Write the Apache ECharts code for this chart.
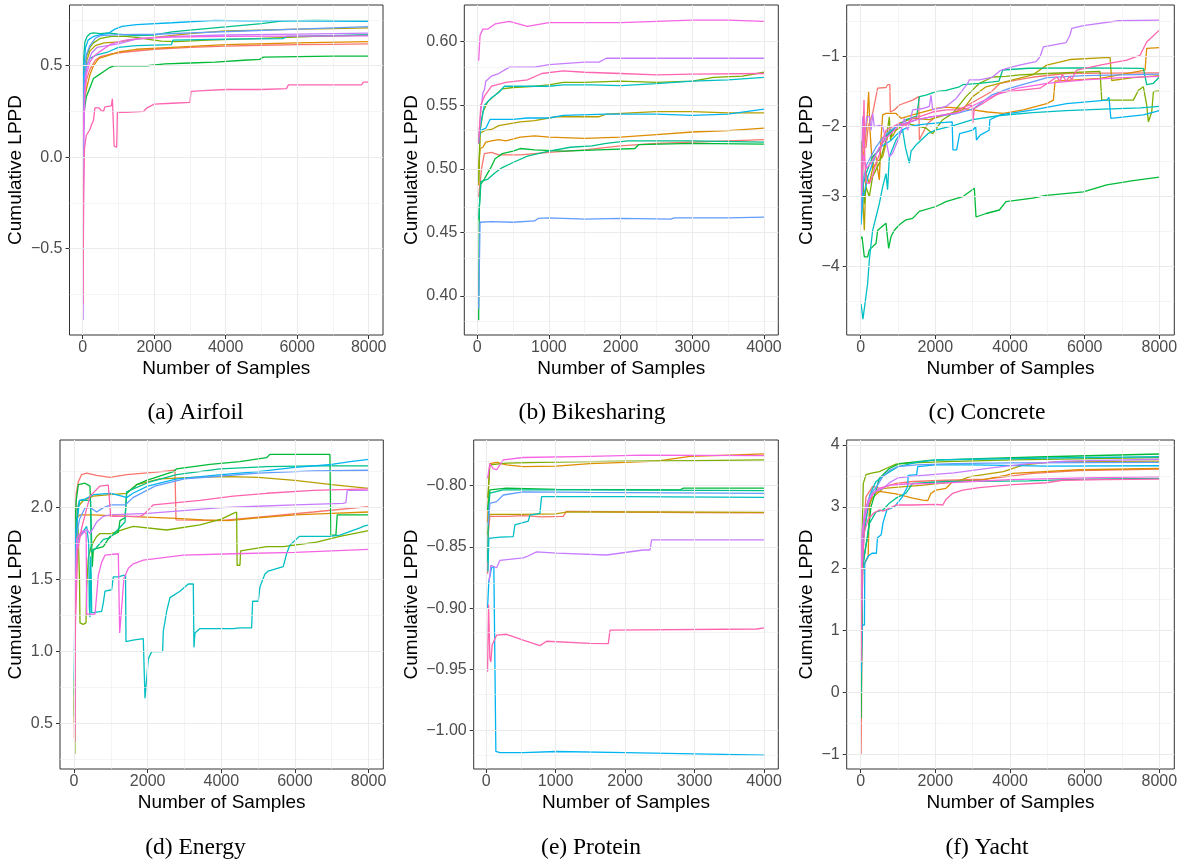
<!DOCTYPE html>
<html>
<head>
<meta charset="utf-8">
<title>Cumulative LPPD by dataset</title>
<script src="https://cdn.jsdelivr.net/npm/echarts@6/dist/echarts.min.js"></script>
<style>
  html, body { margin: 0; padding: 0; background: #ffffff; }
  #chart { width: 1183px; height: 864px; }
</style>
</head>
<body>
<div id="chart"></div>
<script>
// ---- Data: 12 runs per dataset, each a list of [number of samples, cumulative LPPD] ----

const airfoilRuns = [
  [[10,0.05],[40,0.30],[100,0.42],[200,0.48],[350,0.53],[500,0.55],[800,0.565],[1200,0.575],[2000,0.59],[3000,0.60],[4000,0.607],[5000,0.612],[6000,0.615],[7000,0.617],[8000,0.619]],
  [[10,0.15],[40,0.30],[100,0.37],[200,0.45],[300,0.50],[450,0.54],[700,0.555],[1000,0.575],[1500,0.59],[2500,0.60],[4000,0.615],[6000,0.625],[8000,0.632]],
  [[10,0.2],[40,0.40],[100,0.52],[200,0.58],[350,0.61],[600,0.625],[1000,0.63],[1500,0.645],[2000,0.655],[3000,0.675],[4000,0.69],[5000,0.695],[6000,0.70],[7000,0.703],[8000,0.707]],
  [[10,0.25],[40,0.45],[100,0.55],[200,0.60],[300,0.625],[500,0.65],[800,0.66],[1200,0.66],[1500,0.655],[1800,0.645],[2200,0.635],[2600,0.632],[3500,0.64],[5000,0.65],[6500,0.66],[8000,0.668]],
  [[10,0.1],[40,0.25],[100,0.33],[200,0.38],[300,0.43],[450,0.45],[600,0.47],[750,0.49],[900,0.50],[1200,0.50],[1800,0.50],[2300,0.51],[3000,0.515],[3700,0.52],[4500,0.53],[4950,0.535],[5050,0.547],[6000,0.55],[7000,0.552],[8000,0.553]],
  [[10,0.3],[30,0.55],[60,0.63],[120,0.66],[200,0.675],[300,0.68],[500,0.675],[700,0.68],[1000,0.672],[1500,0.665],[2000,0.668],[2500,0.685],[3000,0.695],[4000,0.712],[5000,0.73],[5600,0.745],[6500,0.748],[8000,0.745]],
  [[10,0.2],[50,0.42],[100,0.50],[200,0.54],[400,0.56],[700,0.575],[1000,0.60],[1500,0.61],[2480,0.615],[2520,0.64],[4000,0.645],[5600,0.648],[5700,0.66],[8000,0.668]],
  [[10,0.25],[30,0.50],[80,0.60],[150,0.64],[300,0.66],[500,0.67],[700,0.675],[900,0.70],[1100,0.715],[1500,0.725],[2500,0.735],[3700,0.748],[4500,0.745],[6000,0.745],[8000,0.743]],
  [[10,0.0],[40,0.40],[100,0.56],[200,0.61],[350,0.65],[500,0.665],[1000,0.67],[2000,0.672],[3000,0.68],[4500,0.69],[6000,0.70],[8000,0.714]],
  [[10,-0.89],[20,-0.3],[40,0.2],[80,0.45],[150,0.52],[250,0.57],[400,0.60],[700,0.61],[1000,0.62],[1500,0.645],[2500,0.66],[4000,0.668],[6000,0.673],[8000,0.678]],
  [[10,0.1],[50,0.35],[100,0.45],[200,0.52],[300,0.55],[500,0.58],[800,0.62],[1200,0.64],[1600,0.65],[2500,0.657],[4000,0.66],[8000,0.663]],
  [[10,-0.80],[25,-0.2],[50,0.05],[100,0.12],[200,0.15],[250,0.18],[300,0.20],[340,0.27],[450,0.27],[520,0.255],[580,0.25],[620,0.275],[800,0.28],[830,0.32],[860,0.33],[880,0.06],[950,0.055],[970,0.245],[1200,0.245],[1700,0.25],[1800,0.27],[2000,0.29],[2500,0.295],[3000,0.30],[3030,0.36],[3500,0.365],[4000,0.37],[5000,0.37],[5700,0.375],[5750,0.395],[6500,0.395],[7800,0.395],[7850,0.41],[8000,0.41]]
];

const bikesharingRuns = [
  [[20,0.478],[60,0.50],[100,0.512],[200,0.513],[300,0.511],[600,0.511],[1000,0.513],[1500,0.515],[2000,0.518],[2500,0.520],[3000,0.521],[3500,0.522],[4000,0.523]],
  [[20,0.50],[40,0.516],[80,0.517],[120,0.521],[200,0.522],[300,0.523],[400,0.522],[600,0.525],[800,0.526],[1000,0.525],[1500,0.524],[2000,0.525],[2500,0.527],[3000,0.529],[3500,0.530],[4000,0.532]],
  [[20,0.487],[40,0.528],[100,0.530],[200,0.531],[300,0.534],[400,0.535],[600,0.537],[800,0.538],[1100,0.541],[1700,0.541],[1800,0.543],[2500,0.545],[3000,0.545],[3500,0.544],[4000,0.544]],
  [[20,0.49],[40,0.53],[80,0.545],[150,0.553],[250,0.558],[350,0.563],[500,0.564],[800,0.565],[1000,0.566],[1200,0.568],[1500,0.568],[2000,0.569],[2500,0.568],[3000,0.569],[3300,0.572],[3700,0.573],[4000,0.576]],
  [[20,0.381],[30,0.47],[50,0.488],[100,0.492],[150,0.497],[200,0.502],[250,0.508],[350,0.512],[500,0.514],[600,0.516],[800,0.515],[1200,0.514],[1700,0.515],[2200,0.516],[2250,0.519],[3000,0.520],[4000,0.5195]],
  [[20,0.46],[50,0.49],[150,0.492],[250,0.497],[350,0.501],[500,0.505],[700,0.51],[1000,0.514],[1300,0.517],[1600,0.518],[1800,0.520],[2100,0.522],[3000,0.522],[4000,0.521]],
  [[20,0.52],[50,0.535],[100,0.55],[200,0.556],[300,0.560],[380,0.565],[700,0.565],[1000,0.565],[1200,0.566],[1600,0.566],[2000,0.5655],[2500,0.567],[3000,0.569],[3500,0.570],[4000,0.572]],
  [[20,0.52],[40,0.530],[120,0.532],[180,0.539],[300,0.539],[500,0.539],[700,0.540],[1000,0.540],[1200,0.542],[1800,0.543],[2500,0.543],[3000,0.542],[3500,0.543],[4000,0.547]],
  [[20,0.39],[40,0.458],[200,0.4585],[500,0.458],[800,0.459],[850,0.461],[1000,0.4615],[1500,0.4605],[2000,0.461],[2700,0.4605],[2750,0.4615],[3500,0.4615],[4000,0.462]],
  [[20,0.525],[50,0.545],[80,0.560],[100,0.562],[120,0.569],[200,0.573],[300,0.575],[450,0.580],[800,0.580],[1000,0.582],[1500,0.584],[1700,0.584],[1800,0.587],[3000,0.587],[4000,0.587]],
  [[20,0.585],[40,0.605],[80,0.610],[150,0.610],[250,0.614],[450,0.616],[700,0.612],[900,0.614],[1000,0.615],[2000,0.615],[3000,0.617],[3500,0.617],[4000,0.616]],
  [[20,0.52],[50,0.550],[100,0.557],[200,0.565],[400,0.568],[700,0.570],[900,0.575],[1200,0.577],[1500,0.576],[2000,0.575],[2500,0.574],[3000,0.5745],[4000,0.575]]
];

const concreteRuns = [
  [[10,-2.9],[60,-2.29],[142,-2.3],[200,-2.0],[320,-1.81],[454,-1.45],[678,-1.44],[722,-1.40],[767,-1.38],[780,-1.40],[794,-1.79],[901,-1.76],[1035,-1.69],[1392,-1.62],[1553,-1.57],[1571,-2.19],[1615,-2.14],[1800,-1.95],[2000,-1.86],[2500,-1.80],[3000,-1.65],[3500,-1.50],[3732,-1.38],[4200,-1.33],[4625,-1.29],[5500,-1.24],[6500,-1.235],[8000,-1.23]],
  [[10,-3.0],[60,-2.5],[120,-2.2],[170,-1.9],[213,-1.5],[249,-2.05],[320,-2.62],[360,-2.4],[410,-2.43],[450,-2.6],[499,-2.76],[540,-2.2],[588,-1.83],[678,-1.81],[946,-1.81],[1080,-1.88],[1392,-1.83],[1660,-1.79],[2017,-1.74],[2285,-1.72],[2732,-1.74],[3000,-1.76],[3400,-1.79],[3821,-1.81],[4357,-1.76],[4982,-1.67],[5161,-1.62],[5205,-1.35],[6411,-1.31],[7617,-1.19],[7661,-0.88],[8000,-0.87]],
  [[10,-2.4],[52,-3.0],[97,-3.48],[142,-2.67],[231,-2.81],[320,-2.6],[410,-2.52],[588,-2.43],[767,-2.05],[856,-2.14],[1035,-1.95],[1392,-1.88],[1839,-1.90],[2285,-1.83],[2732,-1.76],[3000,-1.57],[3357,-1.43],[3714,-1.38],[4071,-1.33],[4607,-1.26],[4982,-1.12],[5607,-1.04],[6679,-1.01],[6724,-1.34],[7300,-1.30],[8000,-1.27]],
  [[10,-2.2],[50,-2.6],[97,-3.1],[142,-2.86],[231,-3.0],[320,-2.71],[500,-2.52],[678,-2.19],[767,-1.86],[800,-2.19],[856,-2.05],[946,-2.05],[1213,-1.95],[1750,-2.02],[1928,-2.1],[2196,-1.90],[2464,-1.81],[2821,-1.57],[3178,-1.38],[3535,-1.29],[3892,-1.28],[4268,-1.26],[4982,-1.24],[6411,-1.21],[6456,-1.62],[7304,-1.62],[7438,-1.48],[7572,-1.43],[7661,-1.69],[7706,-1.93],[7795,-1.79],[7840,-1.50],[8000,-1.49]],
  [[10,-3.6],[35,-3.57],[97,-3.86],[186,-3.86],[231,-3.76],[410,-3.67],[454,-3.48],[678,-3.38],[722,-3.36],[749,-3.74],[812,-3.57],[901,-3.48],[1035,-3.40],[1213,-3.33],[1392,-3.31],[1571,-3.21],[2017,-3.14],[2285,-3.07],[2732,-3.0],[3044,-2.88],[3089,-3.29],[3357,-3.24],[3714,-3.19],[3892,-3.07],[4607,-3.02],[4964,-2.98],[5964,-2.93],[6590,-2.83],[7300,-2.77],[8000,-2.72]],
  [[10,-3.3],[52,-2.86],[142,-2.67],[320,-2.43],[499,-2.33],[678,-2.14],[946,-2.0],[1213,-1.90],[1500,-1.85],[1571,-1.57],[1749,-1.55],[2017,-1.50],[2285,-1.48],[2643,-1.43],[2732,-1.40],[3178,-1.38],[3535,-1.36],[3700,-1.35],[3803,-1.19],[4500,-1.165],[6000,-1.16],[7572,-1.166],[7661,-1.40],[7840,-1.38],[8000,-1.29]],
  [[10,-4.53],[60,-4.75],[100,-4.76],[186,-4.24],[231,-3.9],[320,-3.48],[410,-3.29],[499,-3.10],[588,-2.86],[678,-2.67],[720,-2.9],[767,-2.43],[946,-2.19],[1124,-2.05],[1200,-2.3],[1303,-2.52],[1350,-2.35],[1500,-2.25],[1800,-2.1],[2000,-2.05],[2500,-1.98],[3000,-1.90],[3732,-1.84],[4600,-1.80],[5500,-1.77],[6500,-1.75],[7500,-1.73],[8000,-1.71]],
  [[10,-3.4],[60,-3.0],[120,-2.9],[200,-2.7],[300,-2.55],[400,-2.4],[500,-2.3],[650,-2.25],[800,-2.2],[950,-2.12],[1100,-2.05],[1300,-2.0],[1600,-1.97],[2000,-1.95],[2450,-1.93],[2470,-2.33],[2570,-2.33],[2650,-2.1],[3000,-2.05],[3080,-2.0],[3100,-2.19],[3200,-2.12],[3440,-2.05],[3460,-1.90],[3732,-1.83],[4625,-1.76],[5518,-1.67],[6590,-1.62],[6650,-1.58],[6700,-1.88],[7572,-1.83],[8000,-1.77]],
  [[10,-3.2],[60,-2.8],[150,-2.55],[250,-2.45],[400,-2.3],[600,-2.15],[800,-2.05],[1000,-1.98],[1500,-1.9],[2000,-1.85],[2500,-1.82],[3000,-1.75],[3500,-1.55],[4000,-1.45],[5000,-1.30],[6000,-1.27],[7000,-1.26],[8000,-1.25]],
  [[10,-2.9],[55,-1.85],[80,-2.3],[160,-1.86],[231,-1.85],[280,-2.05],[320,-1.81],[365,-2.0],[499,-1.98],[588,-2.0],[678,-2.19],[767,-2.43],[856,-2.38],[1035,-2.14],[1169,-1.88],[1258,-2.05],[1392,-1.76],[1660,-1.74],[1839,-1.71],[1883,-1.55],[1928,-1.76],[2285,-1.71],[2553,-1.60],[2866,-1.38],[2911,-1.33],[3178,-1.33],[3535,-1.29],[3732,-1.20],[3892,-1.17],[4250,-1.12],[4696,-1.07],[4804,-1.0],[4893,-0.86],[5500,-0.80],[5607,-0.69],[5652,-0.594],[5965,-0.557],[6902,-0.486],[8000,-0.476]],
  [[10,-3.0],[80,-2.4],[150,-2.6],[300,-2.5],[500,-2.3],[700,-2.15],[1000,-2.0],[1500,-1.9],[2000,-1.85],[2600,-1.8],[3000,-1.70],[3600,-1.55],[4200,-1.45],[5000,-1.38],[6000,-1.33],[7000,-1.30],[8000,-1.28]],
  [[10,-2.8],[60,-2.2],[89,-1.62],[110,-2.5],[150,-2.8],[231,-2.81],[320,-2.7],[410,-2.52],[499,-2.4],[588,-2.19],[678,-2.05],[856,-2.0],[1035,-1.95],[1213,-1.98],[1392,-1.88],[1660,-1.84],[1928,-1.79],[2285,-1.76],[2600,-1.76],[2910,-1.69],[2990,-1.7],[3000,-1.95],[3044,-1.74],[3357,-1.64],[3732,-1.51],[4804,-1.45],[5250,-1.29],[5340,-1.35],[5400,-1.25],[5500,-1.35],[5600,-1.28],[5652,-1.33],[5786,-1.19],[6411,-1.12],[7125,-1.05],[7483,-0.98],[7661,-0.79],[8000,-0.62]]
];

const energyRuns = [
  [[10,0.40],[30,1.6],[60,2.10],[118,2.18],[208,2.23],[344,2.24],[616,2.225],[978,2.21],[1430,2.23],[2154,2.245],[2742,2.26],[2770,1.915],[3964,1.91],[5231,1.94],[6500,1.97],[8000,2.007]],
  [[10,0.6],[40,1.7],[80,1.93],[163,1.95],[525,1.95],[1430,1.94],[2788,1.925],[3500,1.915],[4200,1.91],[5000,1.93],[6000,1.95],[7000,1.96],[8000,1.97]],
  [[10,0.5],[40,1.8],[118,2.01],[253,2.05],[525,2.08],[978,2.09],[1430,2.10],[1702,2.16],[2335,2.20],[3240,2.21],[4200,2.215],[5000,2.21],[6000,2.19],[7000,2.16],[8000,2.134]],
  [[25,0.29],[40,1.5],[70,1.9],[110,1.85],[150,1.5],[163,1.2],[250,1.19],[326,1.2],[345,1.45],[389,1.65],[450,1.72],[525,1.76],[615,1.80],[706,1.82],[1000,1.82],[1430,1.856],[1611,1.87],[2516,1.845],[3421,1.88],[4000,1.92],[4326,1.96],[4416,1.97],[4430,1.60],[4507,1.60],[4525,1.70],[5231,1.73],[5683,1.73],[6588,1.76],[7222,1.80],[8000,1.84]],
  [[10,0.55],[30,1.9],[60,2.05],[118,2.16],[299,2.17],[435,2.15],[480,2.14],[498,1.59],[525,1.71],[797,1.73],[978,1.80],[1204,1.83],[1249,1.91],[1385,1.93],[1430,2.10],[1702,2.16],[1973,2.19],[2697,2.25],[2788,2.27],[3693,2.30],[4500,2.32],[5231,2.347],[5321,2.37],[6950,2.37],[6977,1.81],[7113,1.81],[7149,1.95],[8000,1.95]],
  [[10,0.7],[40,1.8],[100,2.0],[150,2.05],[450,2.05],[470,1.69],[600,1.72],[800,1.78],[977,1.79],[1200,1.85],[1385,1.90],[1430,2.11],[1611,2.13],[2063,2.18],[2787,2.23],[3964,2.27],[5231,2.285],[6500,2.29],[8000,2.29]],
  [[20,0.70],[35,1.2],[45,1.71],[150,1.80],[344,1.87],[400,1.75],[416,1.31],[435,1.24],[453,1.66],[470,1.5],[480,1.27],[525,1.28],[751,1.28],[797,1.34],[842,1.42],[1023,1.43],[1068,1.52],[1204,1.52],[1340,1.53],[1400,1.53],[1412,1.07],[1600,1.08],[1882,1.09],[1928,0.676],[2018,0.95],[2109,1.0],[2407,1.0],[2425,1.14],[2516,1.28],[2606,1.375],[2878,1.42],[3104,1.47],[3240,1.47],[3258,1.03],[3285,1.13],[3421,1.16],[4326,1.16],[4507,1.165],[4824,1.165],[4851,1.35],[5004,1.35],[5050,1.45],[5185,1.54],[5276,1.56],[5683,1.59],[5774,1.68],[5864,1.74],[6118,1.80],[6950,1.80],[7222,1.81],[7765,1.86],[7855,1.87],[8000,1.88]],
  [[10,0.8],[40,1.8],[150,2.05],[300,2.06],[525,2.09],[1000,2.10],[1300,2.08],[1430,2.07],[1600,2.10],[2000,2.15],[2800,2.20],[4000,2.23],[5000,2.25],[6000,2.28],[7000,2.30],[7500,2.32],[8000,2.336]],
  [[10,1.0],[40,1.6],[100,1.85],[150,1.92],[300,2.0],[450,2.0],[615,1.97],[800,2.0],[1000,2.02],[1400,2.02],[1600,2.07],[2200,2.15],[3000,2.20],[4000,2.22],[5000,2.24],[6500,2.255],[8000,2.26]],
  [[20,0.9],[40,1.5],[100,1.75],[163,1.80],[344,1.85],[435,1.82],[616,1.90],[797,1.94],[977,1.95],[2000,1.96],[2969,1.98],[4000,2.0],[5000,2.01],[6000,2.02],[7300,2.03],[7384,2.035],[7420,2.12],[8000,2.12]],
  [[25,0.46],[40,1.3],[73,1.78],[163,1.82],[253,1.84],[330,1.82],[344,1.26],[570,1.26],[615,1.39],[660,1.53],[750,1.62],[842,1.67],[1204,1.68],[1240,1.13],[1260,1.13],[1357,1.51],[1475,1.58],[1611,1.61],[1882,1.636],[2969,1.67],[4326,1.68],[6000,1.69],[8000,1.71]],
  [[25,0.375],[40,1.2],[100,1.7],[200,1.85],[300,1.95],[435,2.08],[706,2.15],[932,2.157],[980,2.15],[995,1.94],[1792,1.94],[1882,1.95],[2154,2.02],[3421,2.05],[4326,2.08],[5231,2.10],[6500,2.12],[8000,2.13]]
];

const proteinRuns = [
  [[20,-0.872],[29,-0.840],[53,-0.825],[300,-0.825],[533,-0.8245],[800,-0.8255],[1109,-0.825],[1157,-0.8207],[2000,-0.8215],[3000,-0.822],[4000,-0.8222]],
  [[20,-0.83],[40,-0.79],[53,-0.782],[150,-0.781],[293,-0.783],[533,-0.7845],[1013,-0.784],[1493,-0.782],[2000,-0.781],[2454,-0.780],[2934,-0.776],[3500,-0.775],[4000,-0.774]],
  [[20,-0.84],[40,-0.826],[53,-0.8235],[500,-0.8235],[1000,-0.823],[1150,-0.8215],[2500,-0.8215],[4000,-0.8218]],
  [[20,-0.81],[29,-0.805],[53,-0.783],[293,-0.7815],[773,-0.781],[1974,-0.780],[3000,-0.7795],[4000,-0.779]],
  [[19,-0.82],[53,-0.8035],[293,-0.802],[1013,-0.803],[2790,-0.8035],[2838,-0.802],[4000,-0.802]],
  [[20,-0.862],[35,-0.82],[53,-0.806],[245,-0.8035],[1493,-0.8035],[4000,-0.804]],
  [[25,-0.87],[38,-0.843],[200,-0.842],[389,-0.8416],[413,-0.832],[605,-0.829],[629,-0.824],[773,-0.8226],[797,-0.809],[2000,-0.809],[4000,-0.8095]],
  [[19,-0.90],[38,-0.878],[77,-0.867],[110,-0.866],[139,-1.017],[197,-1.018],[533,-1.018],[1013,-1.017],[2000,-1.018],[3000,-1.019],[4000,-1.020]],
  [[29,-0.832],[53,-0.8144],[149,-0.813],[245,-0.8076],[533,-0.805],[1493,-0.8054],[4000,-0.8063]],
  [[43,-0.878],[67,-0.865],[149,-0.867],[197,-0.861],[533,-0.859],[581,-0.858],[725,-0.854],[1013,-0.855],[1733,-0.8566],[2262,-0.8525],[2358,-0.8525],[2382,-0.8443],[4000,-0.8443]],
  [[20,-0.794],[53,-0.782],[101,-0.786],[149,-0.787],[245,-0.779],[533,-0.777],[1493,-0.776],[2262,-0.775],[4000,-0.7755]],
  [[19,-0.952],[34,-0.897],[53,-0.941],[67,-0.944],[86,-0.930],[149,-0.922],[293,-0.9213],[533,-0.926],[773,-0.9306],[869,-0.927],[1493,-0.9287],[1758,-0.929],[1782,-0.918],[3894,-0.917],[4000,-0.916]]
];

const yachtRuns = [
  [[10,-1.0],[20,-0.4],[40,1.5],[80,2.7],[142,3.16],[320,3.33],[500,3.30],[946,3.38],[1392,3.41],[2285,3.43],[3357,3.45],[4607,3.54],[5857,3.585],[8000,3.61]],
  [[10,0.2],[40,2.0],[120,2.1],[200,2.2],[231,3.0],[320,3.22],[499,3.25],[946,3.21],[1392,3.14],[1660,3.11],[1794,3.10],[1883,3.22],[2017,3.27],[2285,3.30],[2464,3.41],[3178,3.43],[3892,3.51],[4071,3.54],[5857,3.60],[8000,3.62]],
  [[10,0.5],[40,2.3],[100,2.7],[200,3.0],[320,3.15],[607,3.30],[1679,3.35],[2572,3.41],[2929,3.49],[3822,3.57],[4357,3.68],[5250,3.73],[8000,3.74]],
  [[10,0.1],[40,2.6],[70,3.38],[142,3.52],[320,3.55],[499,3.57],[678,3.62],[946,3.69],[1392,3.71],[2285,3.73],[4071,3.76],[8000,3.795]],
  [[10,-0.42],[50,2.0],[120,2.3],[186,2.52],[276,3.0],[410,3.27],[499,3.46],[767,3.62],[1035,3.70],[1838,3.75],[3178,3.78],[4964,3.81],[8000,3.855]],
  [[10,0.0],[40,2.0],[120,2.3],[231,2.73],[410,2.92],[600,2.95],[767,3.06],[946,3.14],[1213,3.22],[1392,3.38],[2285,3.41],[4500,3.42],[6000,3.45],[8000,3.46]],
  [[10,0.3],[40,1.8],[80,2.5],[150,2.8],[250,3.2],[400,3.4],[600,3.5],[1000,3.65],[1500,3.72],[2000,3.76],[3000,3.77],[5000,3.79],[8000,3.81]],
  [[10,0.35],[40,1.09],[100,1.09],[110,2.1],[200,2.2],[300,2.25],[420,2.25],[450,2.5],[550,2.55],[600,2.75],[700,2.95],[900,3.0],[1100,3.15],[1258,3.33],[1270,3.51],[1500,3.52],[1526,3.65],[2000,3.68],[3000,3.68],[5000,3.66],[8000,3.665]],
  [[10,0.7],[40,2.5],[100,2.8],[150,3.0],[250,3.2],[400,3.3],[600,3.5],[800,3.6],[1000,3.65],[1500,3.68],[2500,3.70],[4000,3.71],[8000,3.72]],
  [[10,0.75],[40,2.6],[100,2.9],[200,3.1],[400,3.25],[600,3.3],[800,3.4],[1000,3.47],[1500,3.50],[2500,3.55],[3500,3.63],[4500,3.70],[5500,3.74],[8000,3.77]],
  [[10,0.9],[40,2.5],[100,2.8],[200,3.05],[300,3.2],[500,3.3],[800,3.35],[1200,3.37],[2000,3.38],[3000,3.41],[4000,3.44],[6000,3.47],[8000,3.49]],
  [[10,0.5],[40,2.0],[100,2.6],[200,2.8],[350,2.9],[499,2.95],[600,2.93],[678,2.95],[946,3.03],[1392,3.03],[2017,3.04],[2200,3.03],[2285,3.12],[2464,3.22],[2732,3.27],[3178,3.31],[4071,3.36],[4964,3.39],[5410,3.43],[6500,3.44],[8000,3.45]]
];

// Tick positions per dataset
const xTicks8000 = [0, 2000, 4000, 6000, 8000];
const xTicks4000 = [0, 1000, 2000, 3000, 4000];
const airfoilYTicks = [-0.5, 0.0, 0.5];
const bikesharingYTicks = [0.40, 0.45, 0.50, 0.55, 0.60];
const concreteYTicks = [-4, -3, -2, -1];
const energyYTicks = [0.5, 1.0, 1.5, 2.0];
const proteinYTicks = [-1.00, -0.95, -0.90, -0.85, -0.80];
const yachtYTicks = [-1, 0, 1, 2, 3, 4];

const captions = ['(a) Airfoil', '(b) Bikesharing', '(c) Concrete', '(d) Energy', '(e) Protein', '(f) Yacht'];
const xTitle = 'Number of Samples';
const yTitle = 'Cumulative LPPD';

// ggplot2 default hue palette for 12 groups
const palette = ['#F8766D', '#DE8C00', '#B79F00', '#7CAE00', '#00BA38', '#00C08B',
                 '#00BFC4', '#00B4F0', '#619CFF', '#C77CFF', '#F564E3', '#FF64B0'];

// ---- Layout ----
const SANS = '"Liberation Sans", Arial, Helvetica, sans-serif';
const SERIF = '"Liberation Serif", "Times New Roman", Times, serif';

const panels = [
  { runs: airfoilRuns,     xt: xTicks8000, yt: airfoilYTicks,     yd: 1, box: [69.5, 5, 313.5, 330],   xr: [-370, 8400], yr: [-0.972, 0.832],   yTitleX: 16,    cap: [195.5, 413] },
  { runs: bikesharingRuns, xt: xTicks4000, yt: bikesharingYTicks, yd: 2, box: [464.3, 5, 314, 330],    xr: [-180, 4200], yr: [0.3693, 0.6289],  yTitleX: 411.7, cap: [592, 413] },
  { runs: concreteRuns,    xt: xTicks8000, yt: concreteYTicks,    yd: 0, box: [846.7, 5, 327.6, 330],  xr: [-375, 8400], yr: [-4.976, -0.261],  yTitleX: 806.7, cap: [987, 413] },
  { runs: energyRuns,      xt: xTicks8000, yt: energyYTicks,      yd: 1, box: [60, 440, 323.3, 329],   xr: [-380, 8400], yr: [0.185, 2.470],    yTitleX: 16,    cap: [195.5, 848] },
  { runs: proteinRuns,     xt: xTicks4000, yt: proteinYTicks,     yd: 2, box: [473.7, 440, 304.6, 329], xr: [-180, 4205], yr: [-1.0313, -0.7627], yTitleX: 411.7, cap: [591, 848] },
  { runs: yachtRuns,       xt: xTicks8000, yt: yachtYTicks,       yd: 0, box: [846.7, 440, 327.6, 329], xr: [-375, 8400], yr: [-1.238, 4.081],   yTitleX: 806.7, cap: [987, 848] }
];

function fmtNum(v, digits) {
  const s = Math.abs(v).toFixed(digits);
  return (v < -1e-9 ? '\u2212' : '') + s;
}

// Major grid lines at the ticks, minor ones halfway between (ggplot2 theme_bw)
function guideLines(ticks, range, key) {
  const out = [];
  const step = ticks[1] - ticks[0];
  ticks.forEach(v => out.push({ [key]: v, lineStyle: { width: 1.1, color: '#EBEBEB' } }));
  for (let k = -1; k < ticks.length; k++) {
    const m = k < 0 ? ticks[0] - step / 2 : ticks[k] + step / 2;
    if (m > range[0] && m < range[1]) {
      out.push({ [key]: m, lineStyle: { width: 0.6, color: '#EDEDED' } });
    }
  }
  return out;
}

const grid = [], xAxis = [], yAxis = [], series = [], graphic = [];

panels.forEach((p, i) => {
  const [left, top, width, height] = p.box;
  grid.push({ left, top, width, height, show: true, borderColor: '#333333', borderWidth: 1, backgroundColor: '#ffffff', containLabel: false });

  xAxis.push({
    gridIndex: i, type: 'value', min: p.xr[0], max: p.xr[1],
    axisLine: { show: false, onZero: false },
    axisTick: { show: true, length: 4, lineStyle: { color: '#333333', width: 1 }, customValues: p.xt },
    axisLabel: { customValues: p.xt, color: '#4D4D4D', fontSize: 16, fontFamily: SANS, margin: 5,
                 formatter: v => String(Math.round(v)) },
    splitLine: { show: false }
  });
  yAxis.push({
    gridIndex: i, type: 'value', min: p.yr[0], max: p.yr[1],
    axisLine: { show: false, onZero: false },
    axisTick: { show: true, length: 4, lineStyle: { color: '#333333', width: 1 }, customValues: p.yt },
    axisLabel: { customValues: p.yt, color: '#4D4D4D', fontSize: 16, fontFamily: SANS, margin: 7,
                 formatter: v => fmtNum(v, p.yd) },
    splitLine: { show: false }
  });

  // panel grid lines
  series.push({
    type: 'line', xAxisIndex: i, yAxisIndex: i, data: [], z: 1, silent: true,
    markLine: {
      silent: true, symbol: ['none', 'none'], label: { show: false }, animation: false,
      lineStyle: { type: 'solid', color: '#EBEBEB', width: 1 },
      emphasis: { disabled: true },
      data: guideLines(p.yt, p.yr, 'yAxis').concat(guideLines(p.xt, p.xr, 'xAxis'))
    }
  });

  p.runs.forEach((run, k) => {
    series.push({
      type: 'line', xAxisIndex: i, yAxisIndex: i, data: run, z: 2,
      showSymbol: false, symbol: 'none', silent: true, animation: false,
      lineStyle: { color: palette[k], width: 1.3 },
      emphasis: { disabled: true }
    });
  });

  // axis titles and caption
  graphic.push({
    type: 'text', x: left + width / 2, y: top + height + 33.3, silent: true,
    style: { text: xTitle, fontSize: 19, fontFamily: SANS, fill: '#000000', textAlign: 'center', textVerticalAlign: 'middle' }
  });
  graphic.push({
    type: 'text', x: p.yTitleX, y: top + height / 2, rotation: Math.PI / 2, silent: true,
    style: { text: yTitle, fontSize: 19, fontFamily: SANS, fill: '#000000', textAlign: 'center', textVerticalAlign: 'middle' }
  });
  graphic.push({
    type: 'text', x: p.cap[0], y: p.cap[1], silent: true,
    style: { text: captions[i], fontSize: 23.5, fontFamily: SERIF, fill: '#000000', textAlign: 'center', textVerticalAlign: 'middle' }
  });
});

const chart = echarts.init(document.getElementById('chart'), null, { renderer: 'canvas' });
chart.setOption({
  backgroundColor: '#ffffff',
  animation: false,
  grid, xAxis, yAxis, series, graphic
});
</script>
</body>
</html>
